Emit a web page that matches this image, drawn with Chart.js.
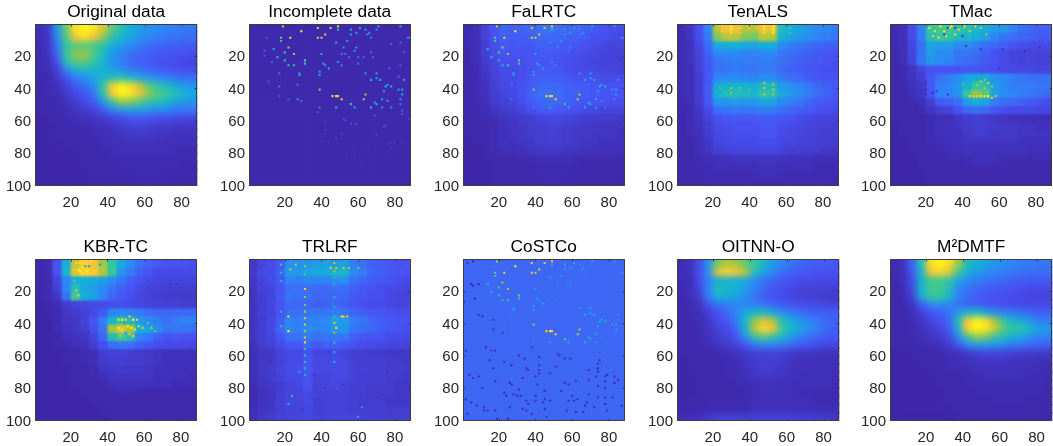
<!DOCTYPE html>
<html><head><meta charset="utf-8">
<style>html,body{margin:0;padding:0;background:#fff;overflow:hidden;width:1053px;height:446px}canvas{position:absolute;display:block}</style>
<script src="https://cdn.jsdelivr.net/npm/chart.js@4/dist/chart.umd.min.js"></script>
</head><body>
<script>
const titles=["Original data","Incomplete data","FaLRTC","TenALS","TMac","KBR-TC","TRLRF","CoSTCo","OITNN-O","M²DMTF"];
const xTicks=[20,40,60,80];
const yTicks=[20,40,60,80,100];
const xCells=[3,8,13,18,23,28,33,38,43,48,53,58,63,68,73,78,83,88];
const yEdges=[0.5,5.5,10.5,15.5,20.5,25.5,30.5,35.5,40.5,45.5,50.5,55.5,60.5,65.5,70.5,75.5,80.5,85.5,90.5,95.5,100.5];
const originalGrid=[
[3,6,35,64,94,99,94,78,62,50,42,36,32,30,28,26,25,25],
[3,5,30,60,86,92,84,68,52,45,38,32,28,26,24,23,22,22],
[2,5,25,55,60,60,58,52,42,36,30,26,22,20,18,18,17,16],
[2,4,20,56,68,70,60,48,35,28,23,20,18,16,15,14,14,13],
[2,3,14,52,62,62,55,45,33,26,20,18,16,14,13,12,11,10],
[2,3,9,30,44,48,46,44,36,32,26,22,20,17,15,14,13,12],
[1,2,6,14,26,32,38,46,50,52,46,38,34,30,26,23,22,22],
[1,2,4,9,16,22,32,56,88,99,92,76,60,54,48,40,34,34],
[1,2,3,6,11,15,24,52,86,99,94,80,68,60,56,50,42,40],
[1,1,2,4,8,11,16,34,56,68,66,60,52,50,44,36,34,32],
[1,1,2,3,5,7,10,16,26,34,36,36,33,30,28,25,24,24],
[0,1,1,2,3,4,5,7,10,12,15,15,14,13,12,11,11,11],
[0,0,1,1,2,2,3,4,5,7,9,9,8,7,7,6,6,6],
[0,0,1,1,1,1,2,3,4,5,6,7,6,5,5,4,4,4],
[0,0,0,1,1,1,1,2,3,3,4,4,4,4,3,3,3,3],
[0,0,0,0,1,1,1,2,2,3,3,3,3,3,3,2,2,2],
[0,0,0,0,0,1,1,1,2,2,2,2,2,2,2,2,2,2],
[0,0,0,0,0,1,1,1,1,2,2,2,2,2,2,2,1,1],
[0,0,0,0,0,0,1,1,1,1,1,2,2,2,1,1,1,1],
[0,0,0,0,0,0,1,1,1,1,1,1,1,1,1,1,1,1]];
const incompleteRow=[1,1,1,1,1,1,1,1,1,1,1,1,1,1,1,1,1,1];
const costcoRow=[20,20,20,20,20,20,20,20,20,20,20,20,20,20,20,20,20,20];
const incompletePoints=[[19,2,70],[29,5,99],[38,3,82],[45,3,80],[49,2,80],[49,4,45],[56,4,40],[61,3,38],[71,2,38],[83,2,35],[56,7,35],[59,6,35],[64,4,30],[66,6,30],[70,4,25],[65,7,30],[67,9,25],[87,9,28],[88,9,30],[18,9,65],[23,9,85],[10,9,15],[38,9,82],[40,9,78],[42,7,82],[18,11,50],[48,12,35],[54,11,35],[78,13,20],[83,12,18],[52,15,30],[59,15,30],[58,17,30],[14,16,40],[22,15,70],[9,17,15],[20,18,55],[25,19,70],[40,19,40],[67,18,18],[85,18,15],[51,19,22],[53,19,20],[9,20,14],[16,21,45],[31,23,62],[60,21,20],[55,21,18],[63,21,16],[68,21,16],[13,24,18],[20,23,50],[22,26,50],[25,26,55],[31,25,55],[41,25,40],[49,24,30],[60,25,22],[42,26,30],[51,26,28],[77,28,20],[83,26,15],[44,28,40],[17,31,18],[28,31,35],[28,32,40],[39,30,40],[39,32,42],[64,31,30],[70,31,35],[82,33,18],[27,38,25],[11,36,14],[17,39,18],[39,41,65],[67,35,40],[70,34,38],[72,35,45],[75,39,42],[76,38,40],[78,39,42],[74,42,40],[85,35,32],[82,41,35],[84,41,38],[84,44,38],[17,45,14],[22,47,16],[27,47,30],[29,48,20],[46,45,88],[48,45,96],[49,45,85],[51,47,85],[64,44,72],[63,47,72],[73,47,38],[83,47,30],[56,50,55],[39,52,25],[48,52,38],[58,52,40],[67,52,40],[69,49,45],[70,50,35],[73,52,28],[76,48,30],[78,52,25],[83,50,22],[38,55,15],[84,54,14],[84,56,14],[88,59,12],[69,57,14],[52,59,10],[53,60,10],[42,61,8],[56,62,12],[59,62,12],[74,64,10],[75,63,10],[42,66,8],[51,68,10],[70,69,8],[40,70,6],[48,71,8],[40,73,5],[44,73,5],[80,73,6],[78,74,6],[84,74,6],[73,74,5],[69,75,5],[62,77,5],[58,78,4],[78,77,5],[69,80,4],[78,81,4],[54,83,4],[58,83,4],[62,88,4]];
const costcoDarkPoints=[[3,3,3],[6,2,3],[5,16,3],[6,17,3],[9,16,3],[7,25,3],[1,27,3],[9,35,3],[11,36,3],[17,38,4],[17,44,4],[22,46,4],[13,55,3],[2,57,3],[16,57,3],[18,57,3],[38,55,5],[31,60,3],[34,62,3],[42,61,4],[15,63,2],[23,64,4],[27,66,2],[42,66,5],[17,68,3],[35,68,3],[36,69,3],[42,69,5],[42,71,3],[40,73,3],[4,72,3],[6,74,3],[9,73,3],[33,74,3],[48,71,4],[51,67,5],[52,59,4],[53,60,5],[56,62,5],[59,62,5],[69,69,4],[74,65,3],[75,63,4],[74,68,3],[74,70,3],[79,72,3],[73,73,4],[78,73,3],[83,73,3],[85,75,3],[69,75,4],[78,76,3],[18,76,3],[62,76,4],[56,77,4],[58,78,3],[83,77,3],[41,78,4],[74,79,4],[11,80,3],[78,80,3],[26,77,2],[27,78,2],[31,81,3],[45,82,3],[54,82,4],[69,84,4],[23,83,2],[24,85,2],[28,84,3],[30,85,3],[32,85,3],[40,85,2],[45,87,3],[60,85,3],[58,88,2],[61,88,2],[63,87,3],[74,86,3],[78,86,3],[82,86,3],[2,87,3],[5,89,3],[8,91,3],[12,92,3],[12,94,3],[14,94,3],[18,94,3],[26,92,3],[33,93,3],[35,88,3],[36,90,3],[35,94,3],[40,88,3],[44,89,3],[48,88,3],[45,93,3],[57,94,3],[62,95,3],[66,95,3],[68,89,3],[67,91,3],[72,92,3],[78,90,3],[79,94,3],[87,91,3],[3,96,3],[38,96,3],[46,98,3],[25,99,3],[19,99,3]];
const tenalsPoints=[[25,2,90],[25,5,88],[30,2,99],[30,4,99],[30,6,92],[35,3,90],[35,6,82],[48,2,99],[48,4,96],[48,6,90],[53,2,99],[53,4,99],[53,6,92],[40,3,84],[44,3,84],[62,3,62],[62,6,58],[30,40,70],[30,43,66],[35,40,62],[48,37,74],[48,40,78],[48,44,76],[53,38,72],[53,41,74],[53,44,68],[24,40,62],[40,41,60]];
const tmacPoints=[[22,3,92],[25,5,90],[28,2,94],[30,5,96],[33,3,88],[36,7,92],[24,8,84],[27,9,88],[31,8,84],[34,2,96],[38,4,86],[41,2,90],[44,5,82],[47,2,80],[50,3,76],[53,7,72],[44,45,85],[46,45,86],[48,45,88],[50,45,92],[52,45,94],[54,45,98],[56,46,88],[58,45,76],[48,38,72],[50,36,78],[52,35,70],[54,37,76],[52,40,74],[56,39,68],[40,38,60],[32,3,6],[36,3,6],[30,7,6],[40,8,7],[20,36,3],[20,38,3],[20,41,3],[20,44,2],[26,42,6],[32,44,6],[24,43,4],[42,14,6],[50,16,6],[62,16,4],[74,17,4],[82,15,4],[60,28,6],[68,30,8]];
const kbrPoints=[[23,3,92],[25,3,96],[27,3,92],[29,2,90],[31,2,94],[33,2,86],[24,7,96],[25,8,99],[26,9,92],[27,7,88],[29,8,94],[30,9,88],[32,7,90],[33,8,92],[35,9,78],[37,7,76],[40,8,62],[44,8,60],[46,38,92],[48,38,96],[50,38,88],[52,36,86],[54,38,99],[56,38,90],[46,43,96],[48,44,92],[51,42,99],[53,43,96],[55,44,92],[57,42,88],[59,43,78],[52,47,84],[54,48,86],[47,48,78],[62,40,64],[64,43,68],[66,45,60],[23,20,82],[24,23,84],[22,14,66],[36,4,38],[30,5,38],[28,5,42],[49,40,34],[53,40,36],[50,46,30],[74,16,6],[62,14,8],[78,16,6],[20,42,4],[22,46,5],[30,46,5]];
const trlrfPoints=[[31,5,70],[31,10,58],[31,19,88],[31,24,66],[31,29,62],[31,33,70],[31,37,76],[31,41,76],[31,45,70],[31,49,80],[31,52,88],[31,56,52],[31,60,50],[31,64,48],[31,68,48],[31,72,44],[47,3,74],[47,8,70],[47,12,52],[47,16,48],[47,24,46],[47,30,48],[47,36,56],[47,40,82],[48,43,86],[47,46,70],[47,52,50],[47,58,46],[47,64,44],[22,36,92],[22,45,94],[51,36,90],[52,36,92],[54,36,82],[26,4,72],[23,7,74],[45,6,78],[48,6,72],[52,6,74],[55,6,68],[60,6,60],[18,4,58],[18,9,50],[18,14,46],[18,33,46],[18,42,52],[4,8,5],[4,14,4],[4,22,4],[4,30,4],[4,40,5],[4,50,5],[7,6,6],[7,16,6],[7,28,5],[7,38,5],[7,48,5],[24,85,50],[22,90,42],[60,98,34],[62,92,30],[28,70,34],[36,72,5],[42,80,4],[52,78,4],[70,86,4],[14,84,4],[30,94,4],[76,70,5]];
const falrtcGrid=[
[2,3,9,14,20,18,18,20,22,24,22,20,20,18,16,14,13,12],
[2,3,9,14,18,17,17,18,20,20,20,18,18,16,14,13,12,11],
[2,3,8,13,16,15,16,16,18,18,17,16,15,14,12,11,10,10],
[1,3,8,12,15,14,14,15,16,16,15,14,13,12,11,10,9,9],
[1,3,7,11,13,13,13,14,15,15,14,13,12,11,10,9,9,8],
[1,2,6,10,12,12,13,14,16,16,15,13,12,12,11,10,10,9],
[1,2,5,9,11,12,13,15,17,18,17,16,14,14,13,12,12,12],
[1,2,4,8,11,12,14,17,20,21,20,18,17,16,15,14,14,14],
[1,2,4,8,10,11,14,18,22,23,22,19,18,17,16,15,15,14],
[1,2,3,7,9,10,13,16,20,21,20,18,16,15,14,14,13,13],
[1,1,3,5,7,8,10,13,16,17,16,14,13,12,11,10,10,10],
[1,1,2,3,5,6,7,8,10,11,11,10,9,8,7,7,7,6],
[1,1,1,2,4,5,6,7,8,9,9,8,7,6,6,5,5,5],
[1,1,1,2,4,5,6,7,8,9,8,7,6,6,5,5,5,4],
[0,1,1,2,4,4,5,6,7,8,8,7,6,5,5,4,4,4],
[0,0,1,2,3,3,4,5,6,6,6,5,5,4,4,3,3,3],
[0,0,1,1,1,1,2,2,3,3,3,3,2,2,2,2,2,2],
[0,0,0,1,1,1,1,1,2,2,2,2,2,1,1,1,1,1],
[0,0,0,1,1,1,1,1,2,2,2,2,1,1,1,1,1,1],
[0,0,0,1,1,1,1,1,1,2,2,1,1,1,1,1,1,1]];
const tenalsGrid=[
[2,5,14,28,74,84,84,74,72,84,82,48,42,38,34,30,28,26],
[2,5,13,26,66,74,74,66,64,74,72,44,38,34,30,28,26,24],
[2,4,11,22,40,42,42,40,38,42,42,30,26,24,22,20,18,18],
[2,4,10,18,28,30,30,28,28,30,30,24,22,20,18,16,15,14],
[2,4,9,16,24,25,26,25,25,26,26,22,20,18,16,15,14,13],
[2,3,9,15,23,24,25,24,24,25,25,21,19,17,15,14,13,13],
[2,3,8,15,28,30,30,29,28,31,31,25,22,20,17,15,14,14],
[2,3,8,17,40,44,46,44,42,48,48,36,32,28,24,20,18,16],
[2,3,8,17,44,50,50,48,46,54,52,40,34,30,26,22,18,16],
[1,3,7,15,32,34,35,34,34,38,38,30,27,24,20,17,15,14],
[1,2,6,12,22,24,25,24,24,26,26,22,20,18,16,14,13,12],
[1,2,5,9,14,15,16,16,16,17,17,15,14,12,11,10,10,9],
[1,2,4,8,12,13,14,14,14,15,15,13,12,11,10,9,9,8],
[1,2,4,7,11,12,13,13,13,14,14,12,11,10,9,9,8,8],
[1,1,3,6,10,11,12,12,12,13,13,11,10,9,9,8,8,7],
[1,1,3,5,8,9,10,10,10,11,11,9,8,8,7,7,6,6],
[1,1,2,3,4,4,5,5,5,5,5,5,4,4,4,3,3,3],
[1,1,2,2,3,3,3,3,3,4,4,3,3,3,3,2,2,2],
[1,1,1,2,2,2,2,2,2,3,3,2,2,2,2,2,2,2],
[1,1,1,2,2,2,2,2,2,2,2,2,2,2,2,2,2,1]];
const tmacGrid=[
[2,3,12,26,55,58,58,54,52,46,42,36,34,28,22,20,18,18],
[2,3,12,26,52,56,54,48,46,42,36,28,24,22,20,18,16,16],
[2,3,11,22,38,36,36,30,30,26,22,20,18,15,13,12,12,12],
[1,3,10,24,36,30,30,24,24,22,18,14,12,10,9,10,9,9],
[1,3,10,24,34,30,28,24,22,20,16,14,12,10,9,10,9,9],
[1,2,5,10,14,14,14,14,15,15,14,13,12,12,11,11,10,10],
[1,2,4,8,16,22,26,30,38,42,40,32,30,26,24,22,22,22],
[1,1,4,6,16,26,28,34,44,56,52,36,30,26,26,26,24,24],
[1,1,3,5,14,28,28,32,56,68,62,38,30,28,26,24,22,20],
[1,1,2,3,8,16,18,22,36,42,38,26,22,20,18,16,14,12],
[1,1,1,2,5,8,10,14,20,22,20,16,13,12,12,12,11,11],
[1,1,1,1,2,3,3,6,7,8,7,6,5,4,4,3,3,3],
[0,1,1,1,2,3,4,5,7,8,8,7,6,6,5,5,4,4],
[0,1,1,1,2,3,4,4,6,7,7,6,6,6,5,5,5,5],
[0,0,1,1,2,2,3,4,5,5,5,5,5,5,4,4,4,4],
[0,0,1,1,1,2,3,3,4,4,4,4,4,4,4,3,3,3],
[0,0,0,1,1,1,2,2,2,3,3,3,2,2,2,2,2,2],
[0,0,0,1,1,1,1,1,2,2,2,2,2,1,1,1,1,1],
[0,0,0,0,1,1,1,1,1,1,1,1,1,1,1,1,1,1],
[0,0,0,0,1,1,1,1,1,1,1,1,1,1,1,1,1,1]];
const kbrGrid=[
[1,2,14,42,76,88,84,70,56,40,30,22,18,16,14,14,14,13],
[1,2,14,46,80,90,86,72,56,34,26,18,14,12,12,12,12,12],
[1,2,10,28,42,42,40,36,30,24,18,14,12,10,10,10,10,10],
[1,2,8,28,50,40,36,30,24,18,15,12,10,9,8,8,8,8],
[1,2,6,22,58,42,38,28,20,16,13,11,9,8,7,7,7,7],
[0,1,3,7,10,11,12,12,13,13,12,11,10,9,9,9,8,8],
[0,1,2,6,7,9,12,17,28,30,28,26,22,20,20,21,21,21],
[0,0,2,5,6,9,15,26,46,56,50,36,30,26,22,26,28,28],
[0,0,2,4,6,8,13,24,70,80,72,42,38,30,24,24,24,22],
[0,0,1,3,4,5,10,20,50,58,52,28,24,18,14,15,14,14],
[0,0,1,2,3,4,8,13,22,24,22,18,15,13,12,12,12,11],
[0,0,0,1,1,2,3,8,9,9,8,7,6,5,4,4,4,4],
[0,0,0,1,1,2,3,7,8,8,7,7,6,5,4,4,4,3],
[0,0,0,0,1,1,2,5,6,7,6,6,5,4,4,3,3,3],
[0,0,0,0,1,1,2,3,5,5,5,5,5,4,4,3,3,2],
[0,0,0,0,1,1,1,2,3,4,4,4,3,3,3,2,2,2],
[0,0,0,0,0,1,1,1,1,2,2,1,1,1,1,1,1,1],
[0,0,0,0,0,0,1,1,1,1,1,1,1,1,1,1,1,1],
[0,0,0,0,0,0,0,1,1,1,1,1,1,1,1,1,1,1],
[0,0,0,0,0,0,0,0,1,1,1,1,1,1,1,1,1,1]];
const trlrfGrid=[
[6,10,12,16,32,32,34,36,38,34,38,26,22,18,17,15,14,14],
[7,11,12,18,36,34,38,40,40,46,46,30,26,20,18,16,15,14],
[6,10,12,16,28,26,28,28,28,30,32,22,20,17,16,14,13,12],
[5,9,10,15,22,22,22,21,20,22,22,18,15,14,13,12,11,10],
[5,8,10,16,24,22,22,20,20,20,20,16,15,13,13,11,10,10],
[5,8,10,14,20,20,20,17,19,20,18,15,14,12,12,11,10,10],
[5,8,10,14,22,22,24,24,24,26,24,20,18,16,15,14,13,13],
[5,8,11,18,28,26,28,28,30,38,36,26,24,20,18,16,15,14],
[5,8,11,20,30,26,30,28,28,36,34,24,22,20,17,15,14,13],
[5,8,10,15,22,22,26,22,24,24,24,18,16,14,14,12,12,11],
[4,7,9,12,16,16,20,16,18,18,17,14,13,12,11,10,10,9],
[3,5,6,9,11,11,14,10,10,11,10,8,8,7,7,6,6,6],
[3,6,6,9,12,12,15,11,11,12,11,9,8,8,8,7,7,6],
[3,6,7,10,12,13,15,11,11,12,11,9,9,8,8,7,7,7],
[3,6,7,9,11,12,14,10,10,11,11,9,8,8,8,7,7,6],
[2,5,6,8,10,11,14,9,10,11,10,8,8,7,7,7,6,6],
[2,4,5,8,10,10,12,9,9,9,9,8,8,7,7,7,6,6],
[2,4,5,8,11,10,12,8,9,9,9,8,7,7,7,6,6,6],
[3,5,6,8,9,9,11,8,9,9,9,8,8,8,8,7,7,7],
[3,6,7,9,10,10,11,9,9,10,10,10,9,8,8,8,8,8]];
const oitnnGrid=[
[2,4,12,32,64,72,70,62,56,46,36,28,24,20,18,18,17,16],
[3,3,14,32,82,90,86,74,50,38,28,22,18,16,15,14,14,14],
[2,3,12,28,42,42,42,38,30,24,20,16,14,12,12,11,11,11],
[2,3,10,28,50,46,44,36,28,20,16,13,11,10,9,9,8,8],
[1,3,8,26,44,42,38,32,24,18,14,12,10,9,8,8,7,7],
[1,2,5,14,22,26,28,28,26,24,20,17,14,13,12,11,10,10],
[1,2,3,8,14,20,28,42,46,48,40,32,26,22,20,18,18,18],
[1,2,3,6,12,16,26,46,68,82,72,50,42,34,28,24,20,18],
[1,1,2,5,9,12,20,44,74,90,84,56,46,38,30,26,20,17],
[1,1,2,4,7,9,15,32,52,60,54,46,34,26,22,18,16,16],
[1,1,1,3,5,7,9,14,24,28,28,24,20,17,14,12,11,11],
[1,1,1,1,2,3,4,6,8,9,9,8,6,5,5,4,4,4],
[0,1,1,1,1,2,3,5,7,8,8,7,5,4,4,3,3,3],
[0,1,1,1,1,2,2,4,6,8,7,6,4,4,3,3,3,3],
[0,0,1,1,1,2,2,4,5,5,5,5,4,3,3,3,3,3],
[0,0,1,1,1,1,2,2,3,4,4,3,3,3,3,3,3,2],
[0,0,1,1,1,1,1,2,2,3,3,3,3,2,2,2,2,2],
[1,1,1,2,2,2,2,2,3,3,3,3,3,3,3,2,2,2],
[1,1,1,2,2,2,2,2,3,3,3,3,3,3,3,3,3,3],
[3,3,4,7,9,9,9,9,9,9,9,9,9,8,8,7,7,6]];
const m2dmtfGrid=[
[2,4,20,50,92,99,92,70,48,44,38,34,30,28,26,25,24,24],
[2,3,16,46,84,90,80,58,44,36,30,28,26,24,23,22,22,22],
[1,3,12,44,58,58,54,38,30,26,24,22,20,18,17,16,16,16],
[1,2,12,46,58,58,50,30,24,20,18,16,15,14,13,12,12,12],
[1,2,9,42,56,56,46,28,20,18,15,14,13,12,11,10,10,10],
[1,2,5,16,28,30,28,22,20,18,16,14,13,12,12,11,11,11],
[1,1,3,8,14,18,24,36,46,50,40,32,28,25,22,20,18,18],
[1,1,2,6,10,14,20,50,86,99,92,70,56,46,40,32,26,26],
[1,1,2,4,7,10,16,44,88,99,94,76,60,54,52,44,36,34],
[1,1,2,3,5,7,11,30,56,68,64,54,48,42,38,30,28,26],
[1,1,1,2,3,4,7,14,28,34,34,32,28,25,22,20,19,18],
[0,0,1,1,1,2,3,4,6,9,10,10,9,8,7,7,6,6],
[0,0,0,1,1,1,2,3,4,5,5,5,5,4,4,4,3,3],
[0,0,0,0,1,1,2,2,3,4,4,4,4,4,3,3,3,2],
[0,0,0,0,0,1,1,1,2,2,3,3,3,3,3,2,2,2],
[0,0,0,0,0,1,1,1,2,2,2,2,2,2,2,2,2,2],
[0,0,0,0,0,0,1,1,1,2,2,2,2,2,2,2,2,1],
[0,0,0,0,0,0,1,1,1,1,1,2,2,2,2,1,1,1],
[0,0,0,0,0,0,0,1,1,1,1,1,1,1,1,1,1,1],
[0,0,0,0,0,0,0,1,1,1,1,1,1,1,1,1,1,1]];

const parula=[[62,38,168],[72,82,244],[46,135,247],[18,177,214],[55,200,151],[171,199,57],[254,195,56],[249,251,21]];
function colour(v){
  const t=Math.min(v,100)/100*(parula.length-1),i=Math.min(Math.floor(t),parula.length-2),f=t-i;
  const c=parula[i].map((a,k)=>Math.round(a+(parula[i+1][k]-a)*f));
  return `rgb(${c[0]},${c[1]},${c[2]})`;
}
const uniform=r=>yEdges.slice(1).map(()=>r);
const brightObserved=incompletePoints.filter(p=>p[2]>=25);
const panels=[
 {grid:originalGrid,points:[],blur:3.2,soft:0},
 {grid:uniform(incompleteRow),points:incompletePoints,blur:0,soft:0},
 {grid:falrtcGrid,points:brightObserved,blur:1.5,soft:0},
 {grid:tenalsGrid,points:tenalsPoints,blur:1.5,soft:0.7},
 {grid:tmacGrid,points:tmacPoints,blur:1,soft:0.7},
 {grid:kbrGrid,points:kbrPoints,blur:1,soft:0.7},
 {grid:trlrfGrid,points:trlrfPoints,blur:1,soft:0.7},
 {grid:uniform(costcoRow),points:brightObserved.concat(costcoDarkPoints),blur:0,soft:0},
 {grid:oitnnGrid,points:[],blur:3,soft:0},
 {grid:m2dmtfGrid,points:[],blur:3.2,soft:0}
];
function blurPlot(chart,amount){
  const {ctx,chartArea:a,canvas}=chart,w=a.right-a.left,h=a.bottom-a.top;
  ctx.save();ctx.beginPath();ctx.rect(a.left,a.top,w,h);ctx.clip();
  ctx.filter=`blur(${amount}px)`;
  ctx.drawImage(canvas,a.left,a.top,w,h,a.left,a.top,w,h);
  ctx.restore();
}
const frame={id:'frame',
 afterDatasetDraw(chart,args,opts){
  if(opts.blur&&args.index===opts.lastBar)blurPlot(chart,opts.blur);
  if(opts.soft&&args.index===0)blurPlot(chart,opts.soft);
 },
 afterDatasetsDraw(chart){
  const {ctx,chartArea:a,scales:{x,y}}=chart;
  ctx.save();ctx.strokeStyle='#3c3c3c';ctx.lineWidth=1;ctx.beginPath();
  const L=Math.round(a.left)+.5,R=Math.round(a.right)-.5,T=Math.round(a.top)+.5,B=Math.round(a.bottom)-.5;
  ctx.rect(L,T,R-L,B-T);
  xTicks.forEach(v=>{const p=Math.round(x.getPixelForValue(v))+.5;ctx.moveTo(p,T);ctx.lineTo(p,T+2);ctx.moveTo(p,B);ctx.lineTo(p,B-2);});
  yTicks.forEach(v=>{const p=Math.round(y.getPixelForValue(v))+.5;ctx.moveTo(L,p);ctx.lineTo(L+2,p);ctx.moveTo(R,p);ctx.lineTo(R-2,p);});
  ctx.stroke();ctx.restore();
}};
const lefts=[35,249,463,676.5,890],tops=[24,259];
Chart.defaults.font.family='"Liberation Sans",Arial,sans-serif';
panels.forEach((p,n)=>{
  const cv=document.createElement('canvas');
  const left=lefts[n%5],top=tops[n<5?0:1];
  cv.width=198;cv.height=211;
  cv.style.left=(left-35)+'px';cv.style.top=(top-24)+'px';cv.style.width='198px';cv.style.height='211px';
  document.body.appendChild(cv);
  const bars=p.grid.map((row,r)=>({type:'bar',grouped:false,barPercentage:1,categoryPercentage:1,borderWidth:0,inflateAmount:1,
    data:row.map((v,c)=>({x:xCells[c],y:[yEdges[r],yEdges[r+1]]})),backgroundColor:row.map(colour)}));
  const datasets=[];
  if(p.points.length)datasets.push({type:'scatter',showLine:false,pointStyle:'rect',pointRadius:1.5,pointHoverRadius:1.5,borderWidth:0,pointBorderWidth:0,
    data:p.points.map(q=>({x:q[0],y:q[1]})),pointBackgroundColor:p.points.map(q=>colour(q[2]))});
  datasets.push(...bars);
  new Chart(cv,{type:'bar',data:{datasets},plugins:[frame],options:{
    responsive:false,animation:false,devicePixelRatio:1,events:[],
    layout:{padding:0},
    plugins:{legend:{display:false},tooltip:{enabled:false},
      frame:{blur:p.blur,soft:p.soft,lastBar:p.points.length?1:0},
      title:{display:true,fullSize:false,text:titles[n],color:'#000',font:{size:17.3,weight:'normal',lineHeight:1.2},padding:{top:1.6,bottom:1.6}}},
    scales:{
      x:{type:'linear',offset:false,min:0.5,max:88.5,grid:{display:false,drawTicks:false},border:{display:false},
        afterBuildTicks:s=>{s.ticks=xTicks.map(value=>({value}))},
        afterFit:s=>{s.height=25},
        ticks:{color:'#262626',font:{size:15},padding:8,maxRotation:0,autoSkip:false}},
      y:{type:'linear',reverse:true,min:0.5,max:100.5,grid:{display:false,drawTicks:false},border:{display:false},
        afterBuildTicks:s=>{s.ticks=yTicks.map(value=>({value}))},
        afterFit:s=>{s.width=35},
        ticks:{color:'#262626',font:{size:15},padding:4,labelOffset:1.5,autoSkip:false}}
    }
  }});
});
</script>
</body></html>
